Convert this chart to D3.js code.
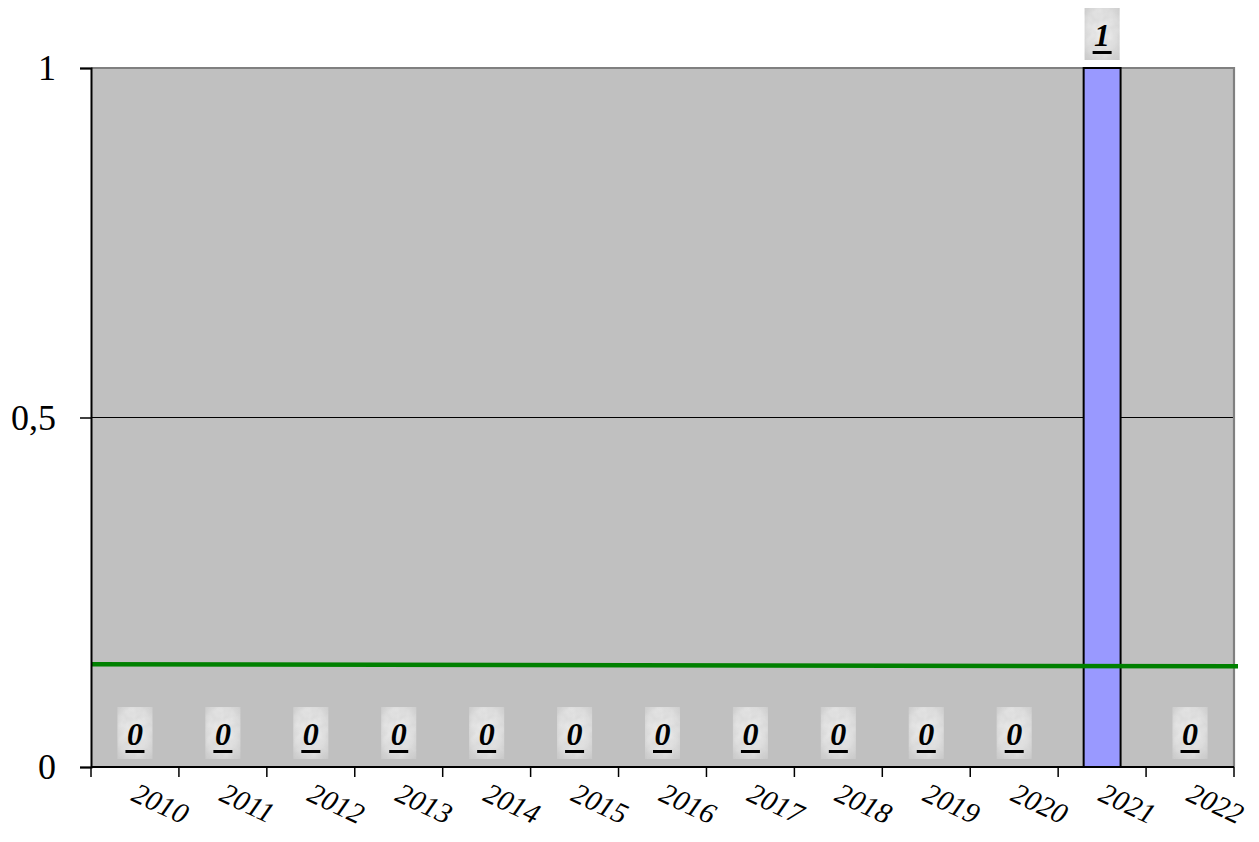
<!DOCTYPE html>
<html>
<head>
<meta charset="utf-8">
<script src="https://cdn.jsdelivr.net/npm/d3@7/dist/d3.min.js"></script>
<style>
  html, body { margin: 0; padding: 0; background: #ffffff; }
  svg { display: block; }
</style>
</head>
<body>
<svg id="chart" width="1259" height="842"></svg>
<script>
// Yearly counts
const years = ["2010","2011","2012","2013","2014","2015","2016","2017","2018","2019","2020","2021","2022"];
const counts = [0,0,0,0,0,0,0,0,0,0,0,1,0];
// Reference (trend) line values at the first and last year
const trendValues = [0.147, 0.144];
// Y axis ticks and their labels
const yTicks = [0, 0.5, 1];
const yTickLabels = ["0", "0,5", "1"];

const width = 1259, height = 842;
const margin = { top: 68, right: 25, bottom: 75, left: 91 };
const innerW = width - margin.left - margin.right;
const innerH = height - margin.top - margin.bottom;
const serif = "Liberation Serif, Times New Roman, serif";

const svg = d3.select("#chart");

// Mottled label background
const defs = svg.append("defs");
const grad = defs.append("radialGradient").attr("id", "lblGrad")
  .attr("cx", "50%").attr("cy", "45%").attr("r", "75%");
grad.append("stop").attr("offset", "0%").attr("stop-color", "#f6f6f6");
grad.append("stop").attr("offset", "60%").attr("stop-color", "#e2e2e2");
grad.append("stop").attr("offset", "100%").attr("stop-color", "#c9c9c9");
const filt = defs.append("filter").attr("id", "mottle")
  .attr("x", "0").attr("y", "0").attr("width", "1").attr("height", "1");
filt.append("feTurbulence").attr("type", "fractalNoise")
  .attr("baseFrequency", "0.12").attr("numOctaves", 2).attr("seed", 3).attr("result", "noise");
filt.append("feColorMatrix").attr("in", "noise").attr("type", "matrix")
  .attr("values", "0 0 0 0 0.55  0 0 0 0 0.55  0 0 0 0 0.55  0 0 0 0.55 -0.05").attr("result", "spots");
filt.append("feComposite").attr("in", "spots").attr("in2", "SourceGraphic").attr("operator", "in").attr("result", "spotsIn");
filt.append("feMerge").selectAll("feMergeNode")
  .data(["SourceGraphic", "spotsIn"]).join("feMergeNode").attr("in", d => d);

const g = svg.append("g").attr("transform", `translate(${margin.left},${margin.top})`);

const x = d3.scaleBand().domain(years).range([0, innerW]).paddingInner(0).paddingOuter(0);
const y = d3.scaleLinear().domain([0, 1]).range([innerH, 0]);

// Plot area background
g.append("rect")
  .attr("x", 0).attr("y", 0).attr("width", innerW).attr("height", innerH)
  .attr("fill", "#c0c0c0");

// Gridline at 0.5
g.selectAll(".grid").data(yTicks.filter(t => t > 0 && t < 1)).join("line")
  .attr("x1", 0).attr("x2", innerW)
  .attr("y1", d => y(d)).attr("y2", d => y(d))
  .attr("stroke", "#000").attr("stroke-width", 1);

// Plot area border (top and right)
g.append("path")
  .attr("d", `M0,${y(1)}H${innerW}V${innerH}`)
  .attr("fill", "none").attr("stroke", "#808080").attr("stroke-width", 2.2);

// Bars
const barW = x.bandwidth() * 0.42;
g.selectAll(".bar").data(counts.map((v, i) => ({ year: years[i], v })).filter(d => d.v > 0))
  .join("rect")
  .attr("x", d => x(d.year) + (x.bandwidth() - barW) / 2)
  .attr("y", d => y(d.v))
  .attr("width", barW)
  .attr("height", d => y(0) - y(d.v))
  .attr("fill", "#9999ff").attr("stroke", "#000").attr("stroke-width", 2);

// Trend line
g.append("line")
  .attr("x1", x.range()[0]).attr("x2", x.range()[1] + 4)
  .attr("y1", y(trendValues[0])).attr("y2", y(trendValues[1]))
  .attr("stroke", "#008000").attr("stroke-width", 4.5);

// Y axis
const yAxis = d3.axisLeft(y).tickValues(yTicks)
  .tickFormat((d, i) => yTickLabels[i]).tickSize(11).tickPadding(24);
const yg = g.append("g").call(yAxis);
yg.select(".domain").attr("stroke", "#000").attr("stroke-width", 2);
yg.selectAll(".tick line").attr("stroke", "#000").attr("stroke-width", 1.5);
yg.selectAll(".tick text")
  .attr("font-family", serif)
  .attr("font-size", 36).attr("fill", "#000").attr("dy", "0.33em");

// X axis: line and ticks at category boundaries
const xg = g.append("g").attr("transform", `translate(0,${innerH})`);
xg.append("line").attr("x1", 0).attr("x2", innerW).attr("stroke", "#000").attr("stroke-width", 2);
const boundaries = years.map(yr => x(yr)).concat([x.range()[1]]);
xg.selectAll(".xtick").data(boundaries).join("line")
  .attr("x1", d => d).attr("x2", d => d).attr("y1", 0).attr("y2", 10)
  .attr("stroke", "#000").attr("stroke-width", 1.5);
xg.selectAll(".xlabel").data(years).join("text")
  .attr("transform", d => `translate(${x(d) + x.bandwidth() / 2 - 5},${33}) rotate(25)`)
  .attr("text-anchor", "start")
  .attr("font-family", serif)
  .attr("font-style", "italic")
  .attr("font-size", 29).attr("fill", "#000")
  .text(d => d);

// Data labels
const lblW = 35, lblH = 52, lblGap = 8;
const lbl = g.selectAll(".lbl").data(counts.map((v, i) => ({ year: years[i], v })))
  .join("g")
  .attr("transform", d => `translate(${x(d.year) + x.bandwidth() / 2},${y(d.v) - lblGap - lblH})`);
lbl.append("rect")
  .attr("x", -lblW / 2).attr("y", 0).attr("width", lblW).attr("height", lblH)
  .attr("fill", "url(#lblGrad)").attr("filter", "url(#mottle)");
lbl.append("text")
  .attr("x", 0).attr("y", 38)
  .attr("text-anchor", "middle")
  .attr("font-family", serif)
  .attr("font-style", "italic").attr("font-weight", "bold")
  .attr("font-size", 32).attr("fill", "#000")
  .text(d => d.v);
lbl.append("rect")
  .attr("x", -9.5).attr("y", 43).attr("width", 19).attr("height", 3)
  .attr("fill", "#000");
</script>
</body>
</html>
